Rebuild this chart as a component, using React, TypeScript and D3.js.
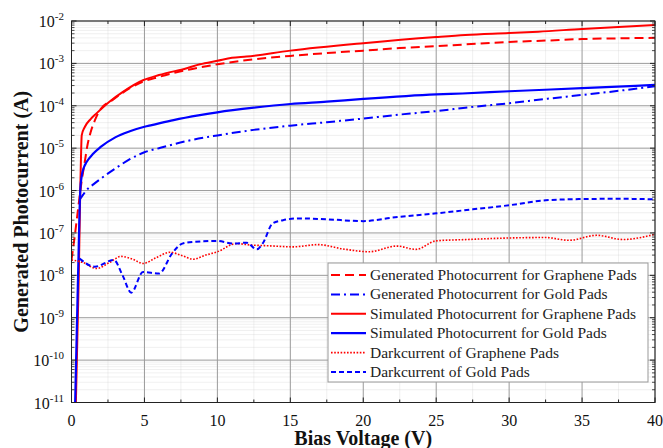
import React from "react";
import * as d3 from "d3";

// Generated photocurrent, graphene pads (red dashed)
const genGrapheneX = [0, 0.25, 0.47, 0.7, 0.92, 1.1, 1.3, 1.6, 1.95, 2.85, 4, 4.9, 6, 7.5, 10, 12.5, 15, 17.5, 20, 22.5, 25, 27, 30, 32.5, 35, 37.5, 40];
const genGrapheneY = [2.3e-8, 1e-7, 4.2e-7, 1.7e-6, 5e-6, 1.2e-5, 2.3e-5, 4.5e-5, 8e-5, 1.4e-4, 2.6e-4, 3.7e-4, 4.8e-4, 6.5e-4, 9.5e-4, 1.25e-3, 1.5e-3, 1.75e-3, 2e-3, 2.3e-3, 2.55e-3, 2.8e-3, 3.2e-3, 3.45e-3, 3.75e-3, 3.9e-3, 4.0e-3];

// Generated photocurrent, gold pads (blue dash-dot)
const genGoldX = [0.55, 0.8, 1, 1.5, 2, 3, 4, 5, 6, 8, 10, 12.5, 15, 17.5, 20, 22.5, 25, 27, 30, 32.5, 35, 37.5, 40];
const genGoldY = [6e-7, 8e-7, 1e-6, 1.4e-6, 1.9e-6, 3.3e-6, 5.5e-6, 8e-6, 1.0e-5, 1.5e-5, 2e-5, 2.7e-5, 3.4e-5, 4.1e-5, 5e-5, 6.2e-5, 7.5e-5, 9e-5, 1.15e-4, 1.45e-4, 1.8e-4, 2.25e-4, 2.9e-4];

// Simulated photocurrent, graphene pads (red solid)
const simGrapheneX = [0.3, 0.5, 0.6, 0.65, 0.7, 0.92, 1.3, 1.73, 2.6, 3.5, 4.9, 6, 7.9, 8.8, 10, 11, 12, 15, 20, 25, 27, 30, 32, 35, 40];
const simGrapheneY = [1e-11, 1e-8, 1e-6, 6e-6, 2e-5, 3.2e-5, 4.8e-5, 6.7e-5, 1.25e-4, 2.1e-4, 4e-4, 5.3e-4, 7.7e-4, 9.5e-4, 1.15e-3, 1.35e-3, 1.45e-3, 2e-3, 3e-3, 4.2e-3, 4.7e-3, 5.2e-3, 5.6e-3, 6.5e-3, 8e-3];

// Simulated photocurrent, gold pads (blue solid)
const simGoldX = [0.25, 0.45, 0.6, 0.7, 0.85, 1, 1.5, 2, 3, 4, 5, 5.5, 7, 8.8, 10, 12.5, 15, 17.5, 20, 25, 26.8, 30, 35, 40];
const simGoldY = [1e-11, 1e-8, 1e-6, 2.2e-6, 3.5e-6, 4.5e-6, 7.5e-6, 1.07e-5, 1.8e-5, 2.5e-5, 3.2e-5, 3.5e-5, 4.6e-5, 6e-5, 7e-5, 9e-5, 1.1e-4, 1.25e-4, 1.45e-4, 1.85e-4, 1.95e-4, 2.2e-4, 2.6e-4, 3.1e-4];

// Dark current, graphene pads (red dotted)
const darkGrapheneX = [0, 0.8, 1.7, 2.6, 3.4, 4.2, 4.9, 5.8, 6.75, 7.6, 8.35, 9.2, 10, 11.3, 12.3, 13.4, 15.2, 16.9, 18.6, 20.4, 22.3, 23.6, 25, 27.1, 30, 32.5, 34.1, 36, 37.8, 40];
const darkGrapheneY = [2.3e-8, 2e-8, 1.45e-8, 2.0e-8, 2.8e-8, 2.4e-8, 1.9e-8, 2.6e-8, 3.5e-8, 2.9e-8, 2.4e-8, 3.0e-8, 3.6e-8, 5.6e-8, 5.2e-8, 5e-8, 4.7e-8, 5.3e-8, 4.2e-8, 3.6e-8, 4.9e-8, 4.1e-8, 6.5e-8, 7e-8, 7.6e-8, 7.8e-8, 6.7e-8, 8.8e-8, 7e-8, 9.3e-8];

// Dark current, gold pads (blue dashed)
const darkGoldX = [0.55, 1.6, 2.9, 3.5, 4.1, 4.9, 6.0, 6.9, 7.6, 8.5, 10, 11.1, 12, 12.7, 13.1, 13.8, 14.5, 15.6, 17.5, 20, 22, 25, 27.5, 30, 32.5, 35, 37.5, 40];
const darkGoldY = [2.5e-8, 1.6e-8, 2.3e-8, 1.0e-8, 3.9e-9, 1.2e-8, 1.1e-8, 3.3e-8, 5.6e-8, 6.2e-8, 6.5e-8, 5.6e-8, 5.9e-8, 4.1e-8, 5.6e-8, 1.7e-7, 2.0e-7, 2.2e-7, 2.1e-7, 1.9e-7, 2.3e-7, 2.9e-7, 3.6e-7, 4.5e-7, 5.9e-7, 6.3e-7, 6.4e-7, 6.2e-7];

const xTicks = [0, 5, 10, 15, 20, 25, 30, 35, 40];
const yExponents = [-2, -3, -4, -5, -6, -7, -8, -9, -10, -11];

const series = [
  { label: "Generated Photocurrent for Graphene Pads", xs: genGrapheneX, ys: genGrapheneY, color: "#f00", width: 2, dash: "9,5" },
  { label: "Generated Photocurrent for Gold Pads", xs: genGoldX, ys: genGoldY, color: "#0000ff", width: 2, dash: "9,4,2,4" },
  { label: "Simulated Photocurrent for Graphene Pads", xs: simGrapheneX, ys: simGrapheneY, color: "#f00", width: 2, dash: null },
  { label: "Simulated Photocurrent for Gold Pads", xs: simGoldX, ys: simGoldY, color: "#0000ff", width: 2.2, dash: null },
  { label: "Darkcurrent of Graphene Pads", xs: darkGrapheneX, ys: darkGrapheneY, color: "#f00", width: 1.6, dash: "1.6,1.6" },
  { label: "Darkcurrent of Gold Pads", xs: darkGoldX, ys: darkGoldY, color: "#0000ff", width: 2, dash: "5,3" },
];

const W = 663;
const H = 448;
const margin = { top: 21, right: 8, bottom: 45.5, left: 71.5 };
const serif = "'Liberation Serif', 'Times New Roman', serif";

export default function App() {
  const x = d3.scaleLinear().domain([0, 40]).range([margin.left, W - margin.right]);
  const y = d3.scaleLog().domain([1e-11, 1e-2]).range([H - margin.bottom, margin.top]);
  const [x0, x1] = x.range();
  const [y0, y1] = y.range();

  const line = d3
    .line<[number, number]>()
    .x((d) => x(d[0]))
    .y((d) => y(d[1]))
    .curve(d3.curveMonotoneX);

  const minorY: number[] = [];
  yExponents.forEach((e) => {
    if (e === -2) return;
    for (let k = 2; k <= 9; k++) minorY.push(k * Math.pow(10, e));
  });
  const minorX = d3.range(2.5, 40, 5);

  const legX = 328;
  const legY = 263;
  const rowH = 19.4;

  return (
    <svg width={W} height={H} style={{ position: "absolute", left: 0, top: 0, background: "#fff" }}>
      <defs>
        <clipPath id="plot">
          <rect x={x0} y={y1} width={x1 - x0} height={y0 - y1} />
        </clipPath>
      </defs>

      {/* grid */}
      {minorY.map((v, i) => (
        <line key={"my" + i} x1={x0} x2={x1} y1={y(v)} y2={y(v)} stroke="#ccc" strokeWidth={0.6} strokeDasharray="1,1" />
      ))}
      {minorX.map((v, i) => (
        <line key={"mx" + i} x1={x(v)} x2={x(v)} y1={y0} y2={y1} stroke="#ccc" strokeWidth={0.6} strokeDasharray="1,1" />
      ))}
      {yExponents.map((e) => (
        <line key={"gy" + e} x1={x0} x2={x1} y1={y(Math.pow(10, e))} y2={y(Math.pow(10, e))} stroke="#9a9a9a" strokeWidth={1} />
      ))}
      {xTicks.map((v) => (
        <line key={"gx" + v} x1={x(v)} x2={x(v)} y1={y0} y2={y1} stroke="#9a9a9a" strokeWidth={1} />
      ))}

      {/* curves */}
      <g clipPath="url(#plot)">
        {series.map((s, i) => (
          <path
            key={i}
            d={line(s.xs.map((v, j) => [v, s.ys[j]] as [number, number])) || ""}
            fill="none"
            stroke={s.color}
            strokeWidth={s.width}
            strokeDasharray={s.dash || undefined}
          />
        ))}
      </g>

      {/* frame and ticks */}
      <rect x={x0} y={y1} width={x1 - x0} height={y0 - y1} fill="none" stroke="#222" strokeWidth={1} />
      {yExponents.map((e) => (
        <g key={"ty" + e}>
          <line x1={x0} x2={x0 + 5} y1={y(Math.pow(10, e))} y2={y(Math.pow(10, e))} stroke="#222" />
          <line x1={x1} x2={x1 - 5} y1={y(Math.pow(10, e))} y2={y(Math.pow(10, e))} stroke="#222" />
        </g>
      ))}
      {minorY.map((v, i) => (
        <g key={"tmy" + i}>
          <line x1={x0} x2={x0 + 3} y1={y(v)} y2={y(v)} stroke="#222" strokeWidth={0.8} />
          <line x1={x1} x2={x1 - 3} y1={y(v)} y2={y(v)} stroke="#222" strokeWidth={0.8} />
        </g>
      ))}
      {xTicks.map((v) => (
        <g key={"tx" + v}>
          <line x1={x(v)} x2={x(v)} y1={y0} y2={y0 - 5} stroke="#222" />
          <line x1={x(v)} x2={x(v)} y1={y1} y2={y1 + 5} stroke="#222" />
        </g>
      ))}
      {minorX.map((v, i) => (
        <g key={"tmx" + i}>
          <line x1={x(v)} x2={x(v)} y1={y0} y2={y0 - 3} stroke="#222" />
          <line x1={x(v)} x2={x(v)} y1={y1} y2={y1 + 3} stroke="#222" />
        </g>
      ))}

      {/* tick labels */}
      {xTicks.map((v) => (
        <text key={"lx" + v} x={x(v)} y={y0 + 23} textAnchor="middle" fontFamily={serif} fontSize={16} fill="#111">
          {v}
        </text>
      ))}
      {yExponents.map((e) => (
        <text key={"ly" + e} x={64} y={y(Math.pow(10, e)) + 6} textAnchor="end" fontFamily={serif} fontSize={16} fill="#111">
          10
          <tspan dy={-7} fontSize={11}>
            {e}
          </tspan>
        </text>
      ))}

      {/* axis titles */}
      <text x={(x0 + x1) / 2} y={445} textAnchor="middle" fontFamily={serif} fontSize={20} fontWeight="bold" fill="#111">
        Bias Voltage (V)
      </text>
      <text
        transform={`translate(28, ${(y0 + y1) / 2}) rotate(-90)`}
        textAnchor="middle"
        fontFamily={serif}
        fontSize={20}
        fontWeight="bold"
        fill="#111"
      >
        Generated Photocurrent (A)
      </text>

      {/* legend */}
      <rect x={legX} y={legY} width={320} height={119} fill="#fff" stroke="#999" strokeWidth={1} />
      {series.map((s, i) => {
        const ry = legY + 12 + i * rowH;
        return (
          <g key={"leg" + i}>
            <line
              x1={legX + 3}
              x2={legX + 38}
              y1={ry}
              y2={ry}
              stroke={s.color}
              strokeWidth={s.width}
              strokeDasharray={s.dash || undefined}
            />
            <text x={legX + 42} y={ry + 5} fontFamily={serif} fontSize={15.5} fill="#222">
              {s.label}
            </text>
          </g>
        );
      })}
    </svg>
  );
}
